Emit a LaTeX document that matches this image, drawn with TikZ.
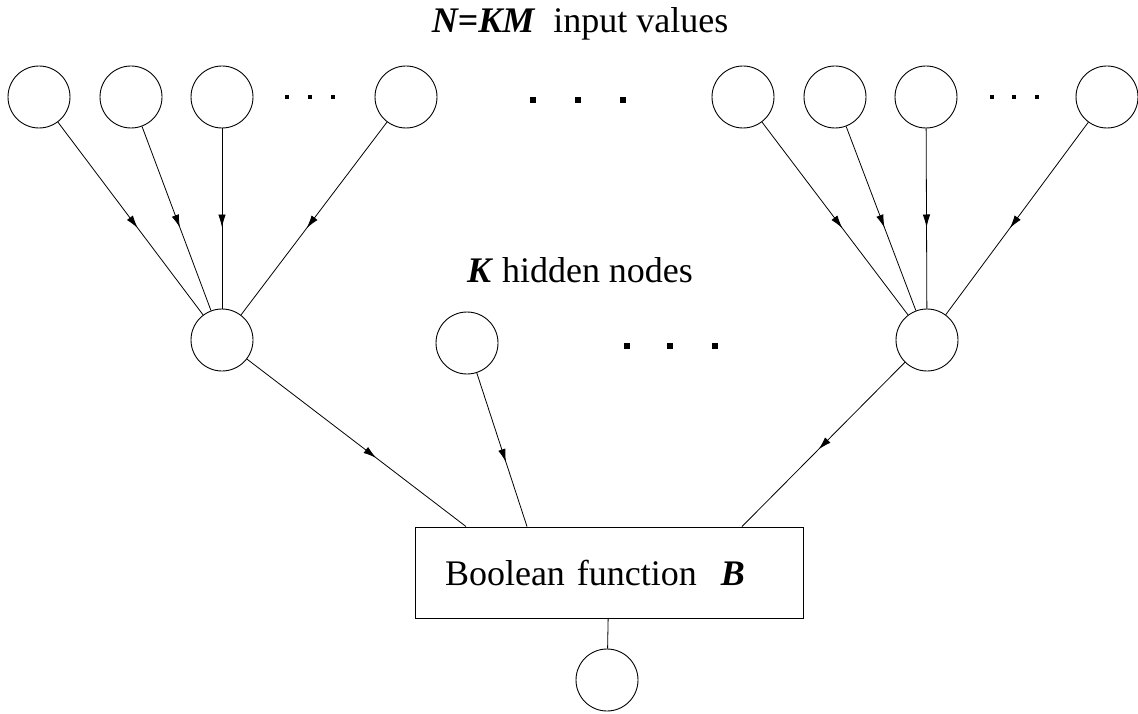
\documentclass[tikz,border=0pt]{standalone}
\usepackage{fontspec}
\setmainfont{Liberation Serif}
\usetikzlibrary{arrows.meta,decorations.markings,positioning}

\tikzset{
	unit/.style={draw,circle,line width=0.9pt,minimum size=62pt,inner sep=0pt},
	flow/.style={line width=0.8pt,postaction={decorate},
		decoration={markings,mark=at position #1 with {\arrow{Latex[length=13pt,width=7.5pt]}}}},
	flow/.default=0.55,
	boolbox/.style={draw,line width=0.9pt,text width=328pt,inner xsep=30pt,minimum height=91pt,align=left}
}

\begin{document}
\begin{tikzpicture}[x=1pt,y=-1pt,font=\fontsize{36}{40}\selectfont]
		\useasboundingbox (0,0) rectangle (1138,714);
		% labels
		\node[anchor=base] (title) at (580,33) {\textbf{\textit{N=KM}}~~input values};
		\node[anchor=base] (hidden) at (580,283) {\textbf{\textit{K}} hidden nodes};
		% input layer
		\foreach \x/\n in {39/i1,131/i2,222/i3,406/i4,743/j1,835/j2,926/j3,1107/j4}
			\node[unit] (\n) at (\x,97) {};
		% hidden layer
		\node[unit] (h1) at (222,340) {};
		\node[unit] (h2) at (467,343) {};
		\node[unit] (hK) at (927,340) {};
		% output
		\node[boolbox] (bool) at (609,572.5) {Boolean function~~\textbf{\textit{B}}};
		\node[unit] (out) at (607,680) {};
		\coordinate (b1) at ([xshift=-143pt]bool.north);
		\coordinate (b2) at ([xshift=-82pt]bool.north);
		\coordinate (bK) at ([xshift=133pt]bool.north);
		% connections
		\foreach \n in {i1,i2,i3,i4}
			\draw[flow] (\n) -- (h1);
		\foreach \n in {j1,j2,j3,j4}
			\draw[flow] (\n) -- (hK);
		\draw[flow=0.59] (h1) -- (b1);
		\draw[flow=0.58] (h2) -- (b2);
		\draw[flow=0.53] (hK) -- (bK);
		\draw[line width=0.8pt] (bool) -- (out);
		% dots
		\foreach \x in {287,310,333,992,1014,1037}
			\fill[black] (\x-1.75,95.25) rectangle +(3.5,3.5);
		\foreach \x/\y in {533/100,578/100,623/100,627/346,670/346,715/346}
			\fill[black] (\x-2.75,\y-2.75) rectangle +(5.5,5.5);
	\end{tikzpicture}
\end{document}
